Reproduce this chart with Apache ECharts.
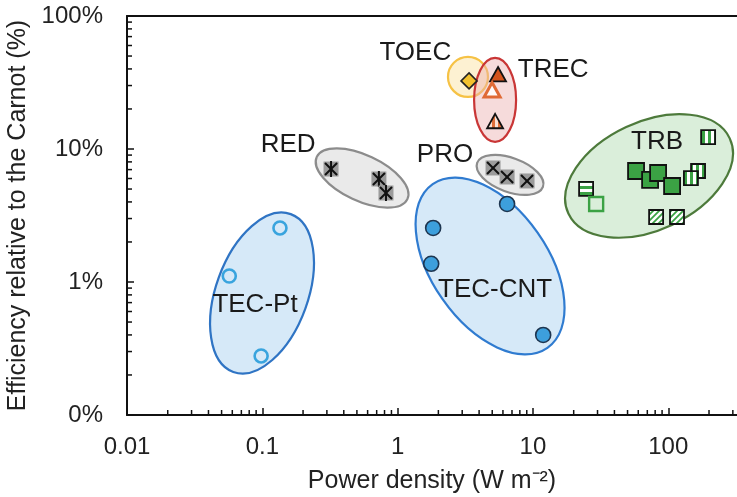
<!DOCTYPE html>
<html lang="en">
<head>
<meta charset="UTF-8">
<title>Efficiency vs power density</title>
<style>
  html, body { margin: 0; padding: 0; background: #fff; }
  #main { width: 737px; height: 497px; }
</style>
</head>
<body>
<div id="main"></div>
<script src="https://cdn.jsdelivr.net/npm/echarts@6.0.0/dist/echarts.min.js"></script>
<script>
// ---- data (x: W m-2, y: % of Carnot) ----
var tecPtX = [0.057, 0.135, 0.098];
var tecPtY = [1.11, 2.55, 0.278];
var tecCntX = [1.83, 1.77, 6.44, 11.9];
var tecCntY = [2.55, 1.37, 3.86, 0.40];
var redX = [0.322, 0.727, 0.82];
var redY = [7.07, 5.95, 4.67];
var proX = [5.07, 6.44, 9.04];
var proY = [7.2, 6.16, 5.75];
var toecX = [3.37];
var toecY = [32.5];
var trecSolidX = [5.52];
var trecSolidY = [36.0];
var trecOpenX = [4.99];
var trecOpenY = [27.5];
var trecStripeX = [5.25];
var trecStripeY = [16.0];
var trbSolidX = [57.8, 73.4, 84.1, 106.7];
var trbSolidY = [6.83, 5.85, 6.60, 5.27];
var trbVertX = [197, 166, 147];
var trbVertY = [12.3, 6.83, 6.05];
var trbHorzX = [24.7];
var trbHorzY = [5.01];
var trbOpenX = [29.3];
var trbOpenY = [3.86];
var trbHatchX = [81.3, 116];
var trbHatchY = [3.08, 3.08];

var groupNames = ['TOEC', 'TREC', 'RED', 'PRO', 'TRB', 'TEC-Pt', 'TEC-CNT'];
var labelX = [1.35, 14.1, 0.155, 2.24, 82.6, 0.0883, 5.25];
var labelY = [52.7, 39.3, 10.7, 9.0, 11.3, 0.671, 0.871];

var xTickLabels = ['0.01', '0.1', '1', '10', '100'];
var yTickLabels = ['0%', '1%', '10%', '100%'];

// group outlines: centre in data units, radii/angle in pixels/degrees
var outlines = [
  { c: [0.0995, 0.826], rx: 46, ry: 84, angle: -20, fill: 'rgba(200,226,245,0.75)', stroke: '#2f74c4' },
  { c: [4.82, 1.32], rx: 58, ry: 100, angle: 35, fill: 'rgba(200,226,245,0.75)', stroke: '#2f7bd0' },
  { c: [0.546, 6.05], rx: 50, ry: 23, angle: -25, fill: 'rgba(225,225,225,0.7)', stroke: '#8c8c8c' },
  { c: [6.77, 6.38], rx: 35, ry: 17, angle: -20, fill: 'rgba(225,225,225,0.7)', stroke: '#8c8c8c' },
  { c: [72.1, 6.27], rx: 89, ry: 54, angle: 25, fill: 'rgba(205,232,205,0.75)', stroke: '#4d7a3b' },
  { c: [3.31, 34.8], rx: 20, ry: 20, angle: 0, fill: 'rgba(252,232,180,0.6)', stroke: '#f6c245' },
  { c: [5.25, 23.4], rx: 21, ry: 42, angle: 0, fill: 'rgba(235,175,175,0.45)', stroke: '#c93636' }
];

function pattern(kind, c1, c2) {
  var cv = document.createElement('canvas');
  cv.width = 6; cv.height = 6;
  var g = cv.getContext('2d');
  g.fillStyle = c2; g.fillRect(0, 0, 6, 6);
  g.fillStyle = c1; g.strokeStyle = c1;
  if (kind === 'v') g.fillRect(0, 0, 3, 6);
  else if (kind === 'h') g.fillRect(0, 0, 6, 3);
  else {
    g.lineWidth = 1.8;
    g.beginPath();
    g.moveTo(0, 6); g.lineTo(6, 0);
    g.moveTo(-3, 3); g.lineTo(3, -3);
    g.moveTo(3, 9); g.lineTo(9, 3);
    g.stroke();
  }
  return { image: cv, repeat: 'repeat' };
}

function pairs(xs, ys) {
  return xs.map(function (x, i) { return [x, ys[i]]; });
}

var green = '#3ba244';
var minorX = [], minorY = [];
[-2, -1, 0, 1, 2].forEach(function (e) {
  for (var k = 2; k <= 9; k++) {
    var v = k * Math.pow(10, e);
    if (v < 322) minorX.push([v, 0.1]);
  }
});
[-1, 0, 1].forEach(function (e) {
  for (var k = 2; k <= 9; k++) minorY.push([0.01, k * Math.pow(10, e)]);
});

var myChart = echarts.init(document.getElementById('main'));

function boxedMarker(kind) {
  return function (params, api) {
    var p = api.coord([api.value(0), api.value(1)]);
    var h = 7.5;
    var kids = [{ type: 'rect', shape: { x: p[0] - h, y: p[1] - h, width: 2 * h, height: 2 * h }, style: { fill: '#9b9b9b' } }];
    var ln = { stroke: '#111', lineWidth: 2 };
    kids.push({ type: 'line', shape: { x1: p[0] - 6, y1: p[1] - 6, x2: p[0] + 6, y2: p[1] + 6 }, style: ln });
    kids.push({ type: 'line', shape: { x1: p[0] + 6, y1: p[1] - 6, x2: p[0] - 6, y2: p[1] + 6 }, style: ln });
    if (kind === 'star') {
      kids.push({ type: 'line', shape: { x1: p[0], y1: p[1] - 8, x2: p[0], y2: p[1] + 8 }, style: ln });
    }
    return { type: 'group', children: kids };
  };
}

// square / triangle markers drawn in pixel space so fill patterns keep their scale
function shapeMarker(kind, size, fill, stroke, lw) {
  return function (params, api) {
    var p = api.coord([api.value(0), api.value(1)]);
    var h = size / 2;
    var st = { fill: fill, stroke: stroke, lineWidth: lw };
    if (kind === 'tri') {
      return {
        type: 'polygon',
        shape: { points: [[p[0], p[1] - h], [p[0] + h, p[1] + h * 0.8], [p[0] - h, p[1] + h * 0.8]] },
        style: st
      };
    }
    return { type: 'rect', shape: { x: p[0] - h, y: p[1] - h, width: size, height: size }, style: st };
  };
}

function tickRenderer(axis) {
  return function (params, api) {
    var p = api.coord([api.value(0), api.value(1)]);
    var shape = axis === 'x'
      ? { x1: p[0], y1: p[1], x2: p[0], y2: p[1] - 5 }
      : { x1: p[0], y1: p[1], x2: p[0] + 5, y2: p[1] };
    return { type: 'line', shape: shape, style: { stroke: '#111', lineWidth: 1.5 } };
  };
}

var font = 'Liberation Sans, Arial, sans-serif';

var option = {
  animation: false,
  backgroundColor: '#fff',
  grid: { left: 127, right: 0, top: 16, bottom: 82, containLabel: false, outerBoundsMode: 'none' },
  xAxis: [{
    type: 'log', min: 0.01, max: 322,
    name: 'Power density (W m\u207B\u00B2)',
    nameLocation: 'middle', nameGap: 54,
    nameTextStyle: { fontSize: 25, color: '#222', fontFamily: font },
    axisLine: { lineStyle: { color: '#111', width: 2 } },
    axisTick: { inside: true, length: 7, lineStyle: { color: '#111', width: 1.5 } },
    axisLabel: {
      fontSize: 24, color: '#222', fontFamily: font, margin: 20, showMaxLabel: false,
      formatter: function (v) { return xTickLabels[Math.round(Math.log10(v)) + 2] || ''; }
    },
    splitLine: { show: false }
  }, {
    type: 'log', min: 0.01, max: 322, position: 'top',
    axisLine: { lineStyle: { color: '#111', width: 2 } },
    axisTick: { show: false }, axisLabel: { show: false }, splitLine: { show: false }
  }],
  yAxis: {
    type: 'log', min: 0.1, max: 100,
    name: 'Efficiency relative to the Carnot (%)',
    nameLocation: 'middle', nameGap: 88,
    nameTextStyle: { fontSize: 25, color: '#222', fontFamily: font },
    axisLine: { lineStyle: { color: '#111', width: 2 } },
    axisTick: { inside: true, length: 7, lineStyle: { color: '#111', width: 1.5 } },
    axisLabel: {
      fontSize: 24, color: '#222', fontFamily: font, margin: 24,
      formatter: function (v) { return yTickLabels[Math.round(Math.log10(v)) + 1] || ''; }
    },
    splitLine: { show: false }
  },
  series: [
    {
      type: 'custom', z: 1, clip: false,
      data: outlines.map(function (o) { return o.c; }),
      renderItem: function (params, api) {
        var o = outlines[params.dataIndex];
        var p = api.coord([api.value(0), api.value(1)]);
        return {
          type: 'ellipse', x: p[0], y: p[1], rotation: o.angle * Math.PI / 180,
          shape: { cx: 0, cy: 0, rx: o.rx, ry: o.ry },
          style: { fill: o.fill, stroke: o.stroke, lineWidth: 2.2 }
        };
      }
    },
    { type: 'custom', z: 2, clip: false, data: minorX, renderItem: tickRenderer('x') },
    { type: 'custom', z: 2, clip: false, data: minorY, renderItem: tickRenderer('y') },
    {
      name: 'TEC-Pt', type: 'scatter', z: 3, symbol: 'circle', symbolSize: 13,
      data: pairs(tecPtX, tecPtY),
      itemStyle: { color: 'rgba(255,255,255,0)', borderColor: '#39a4de', borderWidth: 2.6, opacity: 1 }
    },
    {
      name: 'TEC-CNT', type: 'scatter', z: 3, symbol: 'circle', symbolSize: 15,
      data: pairs(tecCntX, tecCntY),
      itemStyle: { color: '#3d9fdc', borderColor: '#1d3550', borderWidth: 1.6, opacity: 1 }
    },
    { name: 'RED', type: 'custom', z: 3, data: pairs(redX, redY), renderItem: boxedMarker('star') },
    { name: 'PRO', type: 'custom', z: 3, data: pairs(proX, proY), renderItem: boxedMarker('x') },
    {
      name: 'TOEC', type: 'scatter', z: 3, symbol: 'diamond', symbolSize: 16,
      data: pairs(toecX, toecY),
      itemStyle: { color: '#f2c12e', borderColor: '#222', borderWidth: 1.6, opacity: 1 }
    },
    { type: 'custom', z: 3, data: pairs(trecSolidX, trecSolidY), renderItem: shapeMarker('tri', 16, '#d4531c', '#111', 1.8) },
    { type: 'custom', z: 3, data: pairs(trecOpenX, trecOpenY), renderItem: shapeMarker('tri', 16, 'rgba(255,255,255,0.85)', '#e06a35', 3) },
    { type: 'custom', z: 3, data: pairs(trecStripeX, trecStripeY), renderItem: shapeMarker('tri', 16, pattern('v', '#e0703a', '#fbe3d6'), '#111', 1.8) },
    { type: 'custom', z: 3, data: pairs(trbHorzX, trbHorzY), renderItem: shapeMarker('rect', 14, pattern('h', green, '#ffffff'), '#111', 1.8) },
    { type: 'custom', z: 3, data: pairs(trbOpenX, trbOpenY), renderItem: shapeMarker('rect', 14, 'rgba(255,255,255,0)', green, 2.4) },
    { type: 'custom', z: 3, data: pairs(trbSolidX, trbSolidY), renderItem: shapeMarker('rect', 16, green, '#111', 1.8) },
    { type: 'custom', z: 3, data: pairs(trbVertX, trbVertY), renderItem: shapeMarker('rect', 14, pattern('v', green, '#ffffff'), '#111', 1.8) },
    { type: 'custom', z: 3, data: pairs(trbHatchX, trbHatchY), renderItem: shapeMarker('rect', 14, pattern('d', green, '#ffffff'), '#111', 1.8) },
    {
      type: 'custom', z: 4, clip: false,
      data: pairs(labelX, labelY),
      renderItem: function (params, api) {
        var p = api.coord([api.value(0), api.value(1)]);
        return {
          type: 'text', x: p[0], y: p[1],
          style: {
            text: groupNames[params.dataIndex], fill: '#1a1a1a',
            font: '26px ' + font, align: 'center', verticalAlign: 'middle'
          }
        };
      }
    }
  ]
};

myChart.setOption(option);
</script>
</body>
</html>
